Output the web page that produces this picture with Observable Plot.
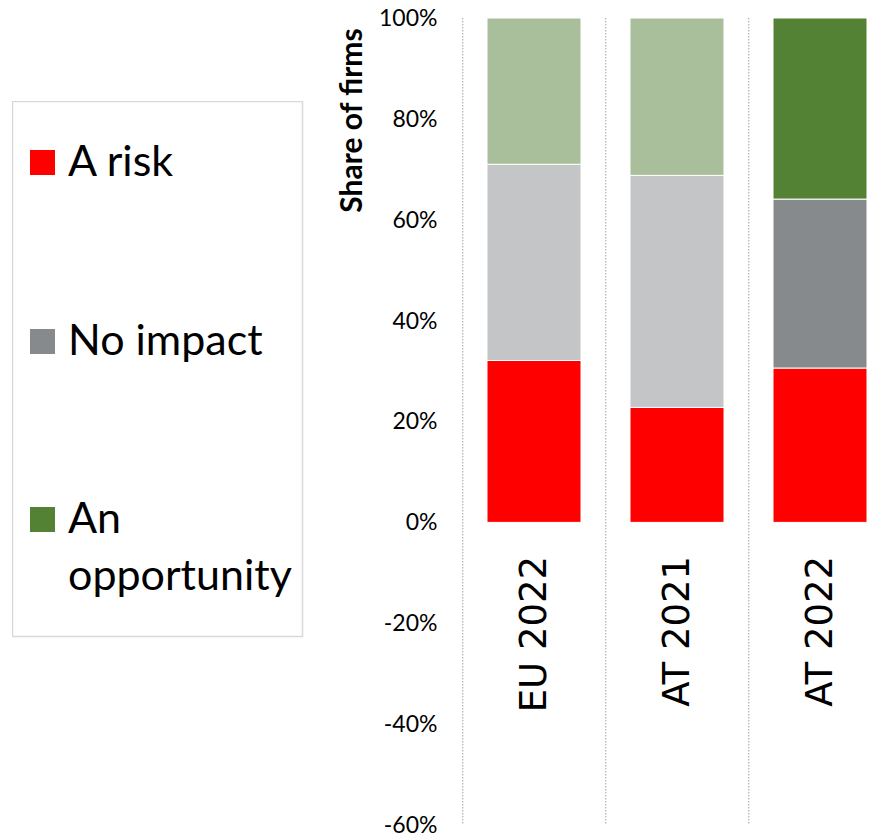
<!DOCTYPE html>
<html><head><meta charset="utf-8">
<script src="https://cdn.jsdelivr.net/npm/d3@7"></script>
<script src="https://cdn.jsdelivr.net/npm/@observablehq/plot@0.6"></script>
<style>
body{margin:0;background:#fff;}
#wrap{position:relative;width:882px;height:837px;overflow:hidden;}
#legend{position:absolute;left:12px;top:101px;}
</style></head><body>
<div id="wrap"><div id="chart"></div><svg id="legend" width="292" height="537"></svg></div>
<script>
const categories = ["EU 2022", "AT 2021", "AT 2022"];
const seriesNames = ["A risk", "No impact", "An opportunity"];
const risk = [32.1, 22.8, 30.6];
const noImpact = [38.9, 46.0, 33.5];
const opportunity = [29.0, 31.2, 35.9];
const yTicks = [-60, -40, -20, 0, 20, 40, 60, 80, 100];
const lightColors = ["#FF0000", "#C4C5C7", "#A9BF9B"];
const darkColors = ["#FF0000", "#878A8D", "#548235"];
const darkCategory = "AT 2022";
const yLabel = "Share of firms";

const values = [risk, noImpact, opportunity];
const rows = [];
seriesNames.forEach((s, si) => categories.forEach((c, ci) => rows.push({
  category: c, series: s, value: values[si][ci],
  color: (c === darkCategory ? darkColors : lightColors)[si]
})));

const plotLeft = 462, plotRight = 892.5;
const step = (plotRight - plotLeft) / categories.length;

const chart = Plot.plot({
  width: 882, height: 837,
  marginLeft: plotLeft, marginRight: 882 - plotRight, marginTop: 18, marginBottom: 12,
  style: {fontFamily: "Lato", fontSize: "23px", color: "#000", background: "transparent", overflow: "hidden"},
  x: {domain: categories, paddingInner: 0.345, paddingOuter: 0.1725, axis: null},
  y: {domain: [-60, 100], ticks: yTicks, tickFormat: d => d + "%", tickSize: 0, tickPadding: 25, label: null},
  color: {type: "identity"},
  marks: [
    Plot.ruleX(categories, {x: d => d, dx: -step / 2, stroke: "#a0a0a0", strokeDasharray: "1.5,1.5", strokeWidth: 1}),
    Plot.barY(rows, {x: "category", y: "value", fill: "color", stroke: "#fff", strokeWidth: 1}),
    Plot.text(categories, {x: d => d, y: d => 0, text: d => d, rotate: -90, textAnchor: "end", dy: 33, fontFamily: "DejaVu Sans", fontSize: 37, fill: "#000"}),
    Plot.text([yLabel], {frameAnchor: "top-left", textAnchor: "middle", lineAnchor: "middle", text: d => d, rotate: -90, dx: -110, dy: 102, fontWeight: "bold", fontSize: 30, fill: "#000"})
  ]
});
document.getElementById("chart").appendChild(chart);

// Legend
const leg = d3.select("#legend");
leg.append("rect").attr("x", 0.5).attr("y", 0.5).attr("width", 290).attr("height", 535)
  .attr("fill", "#fff").attr("stroke", "#d9d9d9").attr("stroke-width", 1.5);
const legendBaselines = [75, 254, 432];
seriesNames.forEach((s, i) => {
  const base = legendBaselines[i];
  leg.append("rect").attr("x", 18).attr("y", base - 26).attr("width", 25).attr("height", 25).attr("fill", darkColors[i]);
  const lines = s.length > 10 ? [s.slice(0, s.indexOf(" ")), s.slice(s.indexOf(" ") + 1)] : [s];
  const t = leg.append("text").attr("x", 56).attr("y", base)
    .attr("font-family", "Lato").attr("font-size", 43).attr("fill", "#000");
  lines.forEach((l, li) => t.append("tspan").attr("x", 56).attr("dy", li === 0 ? 0 : 57).text(l));
});
</script>
</body></html>
